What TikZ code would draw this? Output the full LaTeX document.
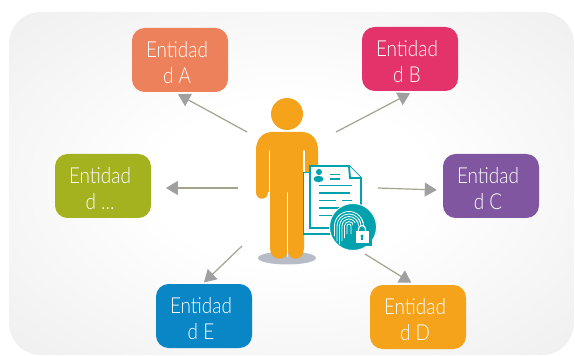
\documentclass[tikz,border=0pt]{standalone}
\usepackage{fontspec}
\setmainfont[FakeStretch=0.86]{Lato Light}
\usetikzlibrary{arrows.meta}
\pgfdeclareradialshading{backglow}{\pgfpoint{0bp}{0bp}}{color(0bp)=(white);color(12bp)=(white);color(50bp)=(black!10);color(75bp)=(black!14);color(100bp)=(black!14)}

\definecolor{colA}{HTML}{ED815B}
\definecolor{colB}{HTML}{E3336A}
\definecolor{colC}{HTML}{7F569F}
\definecolor{colD}{HTML}{F5A31B}
\definecolor{colE}{HTML}{0986C6}
\definecolor{colF}{HTML}{A4B220}
\definecolor{personcol}{HTML}{F5A31B}
\definecolor{tealcol}{HTML}{00A3AD}
\definecolor{linecol}{HTML}{A3A38F}
\definecolor{tipcol}{HTML}{A0A0A0}
\definecolor{shadowcol}{HTML}{B8BCC6}

\newcommand{\entlabel}[1]{\rule{0pt}{16pt}Entidad\hspace*{4.5pt}\\#1\hspace*{4.5pt}}

\tikzset{
  entity/.style={rounded corners=9.5pt, minimum width=72pt, minimum height=48pt, inner sep=0pt,
    align=center, text=white, font=\fontsize{16.5}{19.5}\selectfont},
  relationtip/.style={-{Triangle[length=9pt,width=10.5pt,fill=tipcol,color=tipcol]}, draw=linecol, line width=0.9pt},
  docline/.style={tealcol, line width=1.2pt},
  printline/.style={white, line width=0.6pt}
}

\begin{document}
\begin{tikzpicture}[x=0.75pt,y=-0.75pt]

\useasboundingbox (0,0) rectangle (575,356);

% background
\shade[shading=backglow, rounded corners=24pt] (9,12) rectangle (574,355);

% entities
\node[entity, fill=colA] (entA) at (180,60) {\entlabel{d A}};
\node[entity, fill=colB] (entB) at (410,59) {\entlabel{d B}};
\node[entity, fill=colC] (entC) at (491,186) {\entlabel{d C}};
\node[entity, fill=colD] (entD) at (418,317) {\entlabel{d D}};
\node[entity, fill=colE] (entE) at (204,316) {\entlabel{d E}};
\node[entity, fill=colF] (entF) at (103,186) {\entlabel{d ...}};

% free ends near the person
\coordinate (fromA) at (247,132);
\coordinate (fromB) at (336,132);
\coordinate (fromC) at (378,188);
\coordinate (fromD) at (365,254);
\coordinate (fromE) at (242,246);
\coordinate (fromF) at (238,188);

\draw[relationtip] (fromA) -- ([xshift=-1.5pt,yshift=-1.5pt]entA.south);
\draw[relationtip] (fromB) -- ([yshift=-1.5pt]entB.south);
\draw[relationtip] (fromC) -- ([xshift=-4.5pt,yshift=-3pt]entC.west);
\draw[relationtip] (fromD) -- ([xshift=-5pt,yshift=1.5pt]entD.north);
\draw[relationtip] (fromE) -- ([yshift=1pt]entE.north);
\draw[relationtip] (fromF) -- ([xshift=11pt,yshift=-1.5pt]entF.east);

% shadow
\fill[shadowcol] (287,258) ellipse [x radius=29, y radius=6.5];

% person
\fill[personcol] (287,114) circle [radius=16];
\fill[personcol] (272,132) -- (302,132) .. controls (312,132) and (318,140) .. (318,150)
  -- (318,192) .. controls (318,200) and (304,200) .. (304,192)
  -- (304,248) .. controls (304,262) and (288,262) .. (288,250)
  .. controls (288,262) and (270,262) .. (270,248)
  -- (270,192) -- (268,192) .. controls (268,201) and (256,201) .. (256,192)
  -- (256,150) .. controls (256,140) and (262,132) .. (272,132) -- cycle;
\draw[white, line width=1.4pt, line cap=round] (269.5,151) -- (269.5,196);
\draw[white, line width=1.4pt, line cap=round] (304,151) -- (304,190);
\draw[white, line width=1.4pt, line cap=round] (287.5,193) -- (287.5,256);

% document
\fill[white] (303.5,172.5) rectangle (340,234);
\draw[tealcol, line width=1.4pt] (310,172.5) -- (303.5,172.5) -- (303.5,234) -- (340,234);
\draw[tealcol, line width=1.4pt, fill=white] (310,166) -- (349,166) -- (361,178) -- (361,228) -- (310,228) -- cycle;
\draw[tealcol, line width=1.4pt, fill=white] (349,166) -- (350,178) -- (361,178);
\fill[tealcol] (319,172) circle [radius=3];
\fill[tealcol] (318.5,179) ellipse [x radius=5, y radius=3.2];
\draw[docline] (330,174.5) -- (340,174.5);
\draw[docline] (330,179) -- (340,179);
\draw[docline] (319,185.5) -- (352,185.5);
\draw[docline] (319,193) -- (350,193);
\draw[docline] (319,200.5) -- (336,200.5);
\draw[docline] (342,200.5) -- (352,200.5);
\draw[docline] (319,208) -- (344,208);
\draw[docline] (319,215.5) -- (332,215.5);

% fingerprint badge
\fill[tealcol, draw=white, line width=0.7pt] (353,227) circle [radius=23.5];
\foreach \r/\low in {2/234,4.5/238,7/241,9.5/244,12/241,14.5/236} {
  \draw[printline, line cap=round] (349-\r,\low) -- (349-\r,226) arc [start angle=180, end angle=360, radius=\r] -- (349+\r,\low);
}
\fill[tealcol] (353,223) rectangle (372,246);
\foreach \r in {9.5,12,14.5} {
  \draw[printline, line cap=round] (349+\r,226) arc [start angle=0, end angle=-35, radius=\r];
}
\draw[white, line width=0.9pt] (358.5,231) -- (358.5,229) arc [start angle=180, end angle=360, radius=3.5] -- (365.5,231);
\fill[white] (355.5,231) rectangle (368.5,243);
\fill[tealcol] (362,236) circle [radius=1.7];
\fill[tealcol] (361.2,236) rectangle (362.8,240.5);

\end{tikzpicture}
\end{document}
